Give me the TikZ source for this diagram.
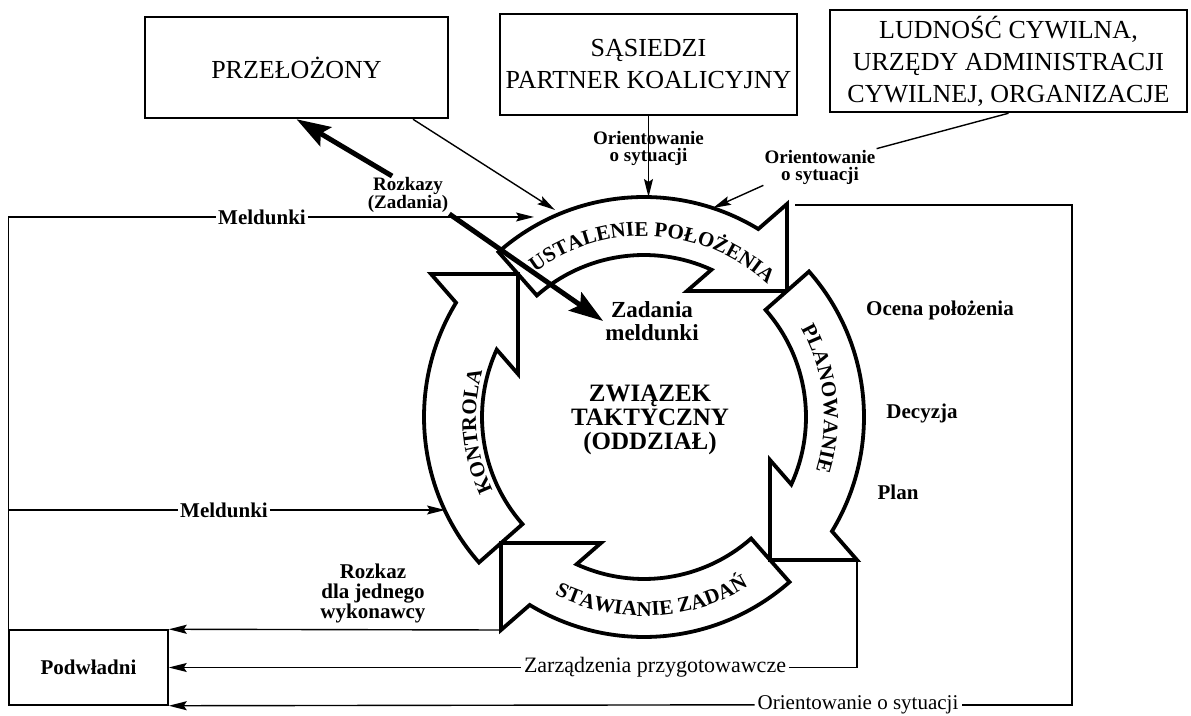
\documentclass[tikz,border=0pt]{standalone}
\usepackage{fontspec}
\setmainfont{Liberation Serif}
\usetikzlibrary{arrows.meta}
\usetikzlibrary{decorations.text}

\begin{document}
\begin{tikzpicture}[x=1pt,y=1pt,
    box/.style={draw,line width=2.5pt,inner sep=0pt,align=center,
        font=\fontsize{26}{32}\selectfont},
    lbl/.style={inner sep=2pt,align=center,font=\fontsize{21}{20}\selectfont\bfseries},
    note/.style={inner sep=1pt,align=center,font=\fontsize{19}{17}\selectfont\bfseries},
    tag/.style={inner sep=3pt,font=\fontsize{21}{21}\selectfont},
    wire/.style={line width=1.4pt},
    conn/.style={wire,-{Stealth[length=18pt,width=9pt,inset=3pt]}},
    heavy/.style={line width=5pt,-{Stealth[length=34pt,width=22pt,inset=6pt]}},
    band/.style={draw,fill=white,line width=3.8pt},
    bandtext/.style={decorate,decoration={text along path,text align=center,
        text={|\fontsize{21}{21}\selectfont\bfseries|#1}}}]
    \useasboundingbox (0,0) rectangle (1191,715);
    \fill[white] (0,0) rectangle (1191,715);

    \node[box,minimum width=303pt,minimum height=101pt] (przelozony) at (296.5,647.5)
        {PRZEŁOŻONY};
    \node[box,minimum width=297pt,minimum height=101pt] (sasiedzi) at (648.5,650.5)
        {SĄSIEDZI\\PARTNER KOALICYJNY};
    \node[box,minimum width=357pt,minimum height=102pt] (ludnosc) at (1008.5,654)
        {LUDNOŚĆ CYWILNA,\\URZĘDY ADMINISTRACJI\\CYWILNEJ, ORGANIZACJE};
    \node[box,line width=1.5pt,minimum width=159pt,minimum height=75pt,
        font=\fontsize{21}{21}\selectfont\bfseries] (podwladni) at (88.5,47.5) {Podwładni};

    \foreach \r in {0,90,180,270}
        \draw[band,shift={(644,298)},rotate=\r] (131.4:220)
            arc[start angle=131.4,end angle=58.7,radius=220] -- (143,213)
            -- (143,126) -- (43,126) -- (65.4:162)
            arc[start angle=65.4,end angle=131.4,radius=162] -- cycle;

    \begin{scope}[shift={(644,298)}]
        \path[bandtext=USTALENIE POŁOŻENIA] (136:181)
            arc[start angle=136,end angle=38,radius=181];
        \path[bandtext=PLANOWANIE] (56:180) arc[start angle=56,end angle=-44,radius=180];
        \path[bandtext=STAWIANIE ZADAŃ] (222.5:199)
            arc[start angle=222.5,end angle=322.5,radius=199];
        \path[bandtext=KONTROLA] (235:168) arc[start angle=235,end angle=135,radius=168];
    \end{scope}

    \coordinate (tbarb) at (795,510);
    \coordinate (pbarb) at (857,155);
    \coordinate (sbarb) at (501,85);
    \coordinate (rcorner) at (1072,510);
    \coordinate (u1) at (555,505);
    \coordinate (u2) at (648.5,518);
    \coordinate (u3) at (713,507);
    \coordinate (u4) at (534,498);
    \coordinate (k1) at (445,205);

    \node[note] (rozkazy) at (408,520) {Rozkazy\\(Zadania)};
    \node[lbl] (meld1) at (262,498) {Meldunki};
    \node[lbl] (meld2) at (224,205) {Meldunki};
    \node[note] (orient2) at (820,548) {Orientowanie\\o sytuacji};
    \node[lbl,font=\fontsize{23}{23}\selectfont\bfseries] (zadania) at (652,394)
        {Zadania\\meldunki};
    \node[align=center,font=\fontsize{25}{24}\selectfont\bfseries] (zwiazek) at (650,295)
        {ZWIĄZEK\\TAKTYCZNY\\(ODDZIAŁ)};
    \node[lbl] (ocena) at (940,405) {Ocena położenia};
    \node[lbl] (decyzja) at (922,302) {Decyzja};
    \node[lbl] (plan) at (898,223) {Plan};
    \node[lbl] (rozkaz) at (373,122) {Rozkaz\\dla jednego\\wykonawcy};
    \node[tag,font=\fontsize{22}{22}\selectfont] (zarzadzenia) at (655,47.5)
        {Zarządzenia przygotowawcze};
    \node[tag,anchor=base] (orient3) at (858,5.5) {Orientowanie o sytuacji};

    \draw[conn] (sasiedzi.south) -- node[note,pos=0.4] (orient1) {Orientowanie\\o sytuacji} (u2);
    \draw[conn] ([xshift=116.5pt]przelozony.south) -- (u1);
    \draw[wire] (ludnosc.south) -- (orient2.north east);
    \draw[conn] (orient2.south west) -- (u3);
    \draw[wire] (podwladni.north west) |- (meld1.west);
    \draw[conn] (meld1.east) -- (u4);
    \draw[wire] (podwladni.north west |- meld2.west) -- (meld2.west);
    \draw[conn] (meld2.east) -- (k1);
    \draw[conn] (sbarb) -- (podwladni.north east);
    \draw[wire] (pbarb) |- (zarzadzenia.east);
    \draw[conn] (zarzadzenia.west) -- (podwladni.east);
    \draw[wire] (tbarb) -- (rcorner) |- (orient3.east);
    \draw[conn] (orient3.west) -- (podwladni.south east);
    \draw[heavy] (rozkazy.130) -- (przelozony.south);
    \draw[heavy] (rozkazy.south east) -- (zadania.west);
\end{tikzpicture}
\end{document}
